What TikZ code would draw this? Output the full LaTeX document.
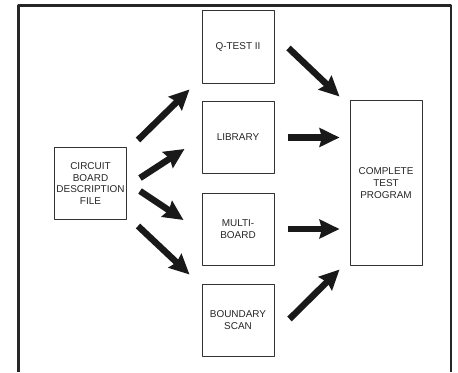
\documentclass[tikz,border=0pt]{standalone}
\usepackage{fontspec}
\setmainfont{Liberation Sans}
\usetikzlibrary{arrows.meta}
\begin{document}
\begin{tikzpicture}[x=.03cm, y=-.03cm, font=\fontsize{8.5}{10}\selectfont, line join=round, text=black!85,
	hop/.style={draw=black!80, line width=.85pt, minimum width=2.16cm, minimum height=2.16cm, align=center, inner sep=1pt},
	fat/.style={line width=5.5pt, black!90, -{Stealth[length=17pt, width=16pt, inset=2pt]}}]
	\useasboundingbox (0,0) rectangle (458,372);
	\draw[line width=2.2pt, black!85] (18.5,372) |- (451,5.3) -- (451,372); % frame, open at the bottom
	\node[hop] (cbdf) at (90.5,183.5) {CIRCUIT\\BOARD\\DESCRIPTION\\FILE};
	\node[hop] (qtest) at (238,47) {Q-TEST II};
	\node[hop] (library) at (238,137.5) {LIBRARY};
	\node[hop] (multi) at (238,229) {MULTI-\\BOARD};
	\node[hop] (bscan) at (238,320) {BOUNDARY\\SCAN};
	\node[hop, minimum height=4.92cm] (ctp) at (386,183) {COMPLETE\\TEST\\PROGRAM};
	% fan out
	\draw[fat] ([shift={(11,-7)}]cbdf.north east) -- ([shift={(-12,6)}]qtest.south west);
	\draw[fat] ([shift={(13,-5.5)}]cbdf.east) -- ([shift={(-17,11.5)}]library.west);
	\draw[fat] ([shift={(13,7.5)}]cbdf.east) -- ([shift={(-18,-9)}]multi.west);
	\draw[fat] ([shift={(11,6)}]cbdf.south east) -- ([shift={(-12,-9)}]bscan.north west);
	% fan in
	\draw[fat] ([shift={(14,1)}]qtest.east) -- ([shift={(-10,-4)}]ctp.north west);
	\foreach \hang in {library,multi} \draw[fat, shorten <=.39cm, shorten >=.3cm] (\hang.east) -- (\hang.east -| ctp.west);
	\draw[fat] ([shift={(15,-1)}]bscan.east) -- ([shift={(-10,4)}]ctp.south west);
\end{tikzpicture}
\end{document}
